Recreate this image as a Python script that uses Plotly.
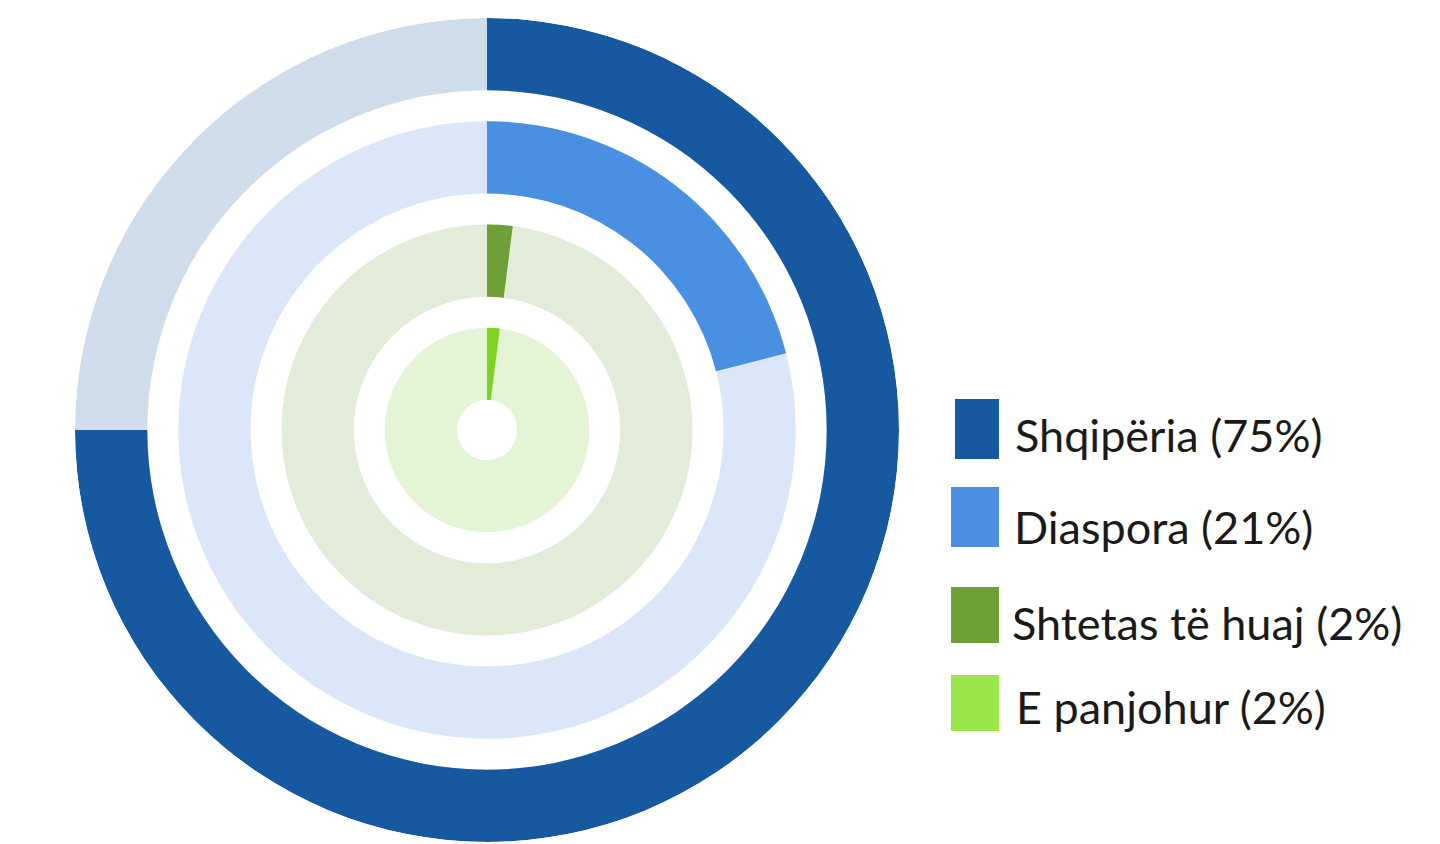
import plotly.graph_objects as go

# Data
categories = ["Shqipëria", "Diaspora", "Shtetas të huaj", "E panjohur"]
values = [75, 21, 2, 2]
legend_labels = ["Shqipëria (75%)", "Diaspora (21%)", "Shtetas të huaj (2%)", "E panjohur (2%)"]

# Styles
bar_colors = ["#1759A0", "#4A90E2", "#6EA037", "#7ED321"]
track_colors = ["#CFDDEA", "#DBE7F8", "#E2ECD8", "#E3F5D5"]
legend_colors = ["#1759A0", "#4A90E2", "#6EA037", "#9AE64A"]
ring_base = [3, 2, 1, 0]
ring_width = 0.7

OFF = 8  # browser default body margin
W, H = 1440, 844


def px_x(x):
    return (x - OFF) / W


def px_y(y):
    return 1 - (y - OFF) / H


fig = go.Figure()
for cat, v, bc, tc, b in zip(categories, values, bar_colors, track_colors, ring_base):
    fig.add_trace(go.Barpolar(
        r=[ring_width], base=[b], theta=[180], width=[360],
        marker=dict(color=tc, line=dict(width=0)), hoverinfo="skip", showlegend=False))
    fig.add_trace(go.Barpolar(
        r=[ring_width], base=[b], theta=[v * 3.6 / 2], width=[v * 3.6],
        marker=dict(color=bc, line=dict(width=0)), name=cat, showlegend=False))

cx, cy, R = 487, 430, 412
fig.update_layout(
    width=W, height=H,
    margin=dict(l=0, r=0, t=0, b=0),
    paper_bgcolor="white",
    plot_bgcolor="white",
    polar=dict(
        domain=dict(x=[px_x(cx - R), px_x(cx + R)], y=[px_y(cy + R), px_y(cy - R)]),
        hole=30 / R,
        bgcolor="white",
        radialaxis=dict(range=[0, 3.7], visible=False, showgrid=False),
        angularaxis=dict(rotation=90, direction="clockwise", visible=False, showgrid=False),
        barmode="overlay",
    ),
    showlegend=False,
)

# Legend built from shapes + annotations
sq = [(955, 399, 999, 459), (951, 487, 999, 547), (951, 587, 999, 643), (951, 675, 999, 731)]
text_x = [1016, 1015, 1013, 1017]
text_y = [435, 527, 623, 707]
for (x0, y0, x1, y1), col, lab, tx, ty in zip(sq, legend_colors, legend_labels, text_x, text_y):
    fig.add_shape(type="rect", xref="paper", yref="paper",
                  x0=px_x(x0), x1=px_x(x1), y0=px_y(y1), y1=px_y(y0),
                  fillcolor=col, line=dict(width=0))
    fig.add_annotation(xref="paper", yref="paper", x=px_x(tx - 3), y=px_y(ty),
                       xanchor="left", yanchor="middle", text=lab, showarrow=False,
                       font=dict(family="Lato", size=45, color="#1a1a1a"))

fig.write_html("out.html")
